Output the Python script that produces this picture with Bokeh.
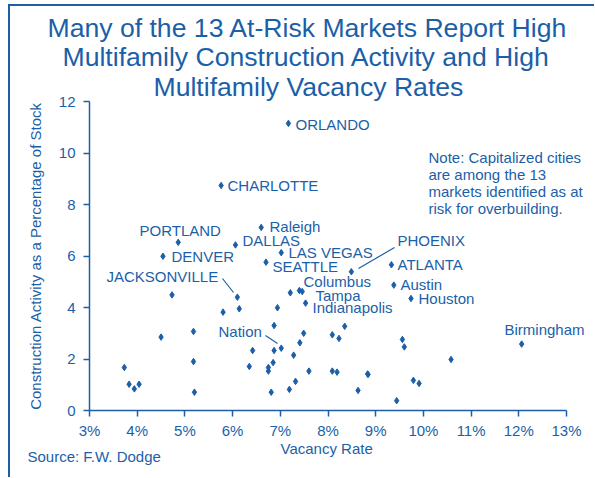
from bokeh.plotting import figure
from bokeh.models import Label, Range1d, FixedTicker, Title
from bokeh.embed import file_html
from bokeh.resources import INLINE

# ---------------- data ----------------
names = ["ORLANDO", "CHARLOTTE", "PORTLAND", "Raleigh", "DALLAS", "DENVER",
         "LAS VEGAS", "SEATTLE", "PHOENIX", "ATLANTA", "Austin", "Houston",
         "Birmingham", "Columbus", "Tampa", "Indianapolis", "JACKSONVILLE", "Nation"]
name_x = [7.17, 5.76, 4.86, 6.60, 6.06, 4.54, 7.02, 6.70, 8.49, 9.33, 9.38, 9.74,
          12.06, 7.40, 7.53, 7.46, 6.10, 7.02]
name_y = [11.15, 8.74, 6.53, 7.11, 6.43, 5.99, 6.13, 5.76, 5.39, 5.66, 4.87, 4.35,
          2.58, 4.66, 4.17, 4.62, 4.40, 2.42]

other_x = [4.73, 4.50, 5.18, 5.18, 5.20, 3.73, 3.83, 3.94, 4.04, 5.80, 6.14, 6.94,
           6.87, 7.21, 6.42, 6.87, 6.35, 6.75, 6.75, 6.85, 6.81, 7.19, 7.32, 7.28,
           7.41, 7.49, 7.60, 8.09, 8.23, 8.09, 8.19, 8.35, 8.83, 8.84, 8.63, 9.44,
           9.56, 9.60, 9.79, 9.91, 10.58]
other_y = [4.49, 2.85, 3.07, 1.90, 0.71, 1.67, 1.02, 0.84, 1.02, 3.82, 3.95, 3.99,
           3.30, 4.57, 2.33, 2.33, 1.71, 1.67, 1.53, 1.86, 0.71, 0.82, 1.13, 2.15,
           2.63, 3.00, 1.53, 2.94, 2.80, 1.53, 1.49, 3.27, 1.42, 1.40, 0.78, 0.38,
           2.76, 2.47, 1.17, 1.05, 1.98]

x_ticks = [3, 4, 5, 6, 7, 8, 9, 10, 11, 12, 13]
x_tick_labels = ["3%", "4%", "5%", "6%", "7%", "8%", "9%", "10%", "11%", "12%", "13%"]
y_ticks = [0, 2, 4, 6, 8, 10, 12]
y_tick_labels = ["0", "2", "4", "6", "8", "10", "12"]

title_lines = ["Many of the 13 At-Risk Markets Report High",
               "Multifamily Construction Activity and High",
               "Multifamily Vacancy Rates"]
note_lines = ["Note: Capitalized cities", "are among the 13",
              "markets identified as at", "risk for overbuilding."]
x_label = "Vacancy Rate"
y_label = "Construction Activity as a Percentage of Stock"
source_text = "Source: F.W. Dodge"

# ---------------- layout / style ----------------
BLUE = "#1b5fa8"
FONT = "Liberation Sans"
CX, CY = 10, 6                 # page offset of the figure content (after CSS border)
W, H = 584, 471                # figure size
AX_L, AX_B, AX_T = 89, 410, 101  # page px of the x=3 / y=0 / y=12 axis positions
PPX = 47.7                     # px per x unit
X0, Y0, YTOP = 3, 0, 12
FL = AX_L - CX                 # frame left within figure
FT = AX_T - CY                 # frame top within figure
FW = W - FL                    # frame spans to the right edge
FH = AX_B - AX_T
PPY = FH / (YTOP - Y0)

def dx(px):   # page px -> data x
    return X0 + (px - AX_L) / PPX

def dy(py):   # page px -> data y
    return Y0 + (AX_B - py) / PPY

# label anchors (left, baseline) in page px
label_px = {
    "ORLANDO": (295, 130), "CHARLOTTE": (227, 191), "PORTLAND": (139, 236),
    "Raleigh": (269, 232), "DALLAS": (242, 246), "DENVER": (171, 262),
    "LAS VEGAS": (288, 258), "SEATTLE": (272, 272), "PHOENIX": (397, 246),
    "ATLANTA": (397, 270), "Austin": (400, 290), "Houston": (418, 304),
    "Birmingham": (504, 335), "Columbus": (303, 287), "Tampa": (315, 301),
    "Indianapolis": (312, 313), "JACKSONVILLE": (106, 282), "Nation": (218, 337),
}
BASE_FIX = 6   # Bokeh alphabetic baseline correction (px)
leaders_px = [((358, 268), (394, 247)), ((222, 278), (233, 292)), ((265, 335), (277, 343))]
title_left_px = [47, 62, 153]
title_standoff = [-3, -3, -1]

p = figure(width=W, height=H, frame_width=FW, frame_height=FH, output_backend="svg",
           toolbar_location=None, title=None,
           x_range=Range1d(X0, X0 + FW / PPX), y_range=Range1d(Y0, YTOP),
           min_border_left=FL, min_border_top=FT, min_border_right=0,
           min_border_bottom=H - FT - FH,
           background_fill_color="white", border_fill_color="white")
p.outline_line_color = None
p.grid.visible = False
p.styles = {"margin-left": "8px", "margin-top": "4px",
            "border-top": "2px solid " + BLUE, "border-left": "2px solid " + BLUE}

for ax in (p.xaxis[0], p.yaxis[0]):
    ax.axis_line_color = BLUE
    ax.axis_line_width = 1.5
    ax.major_tick_line_color = BLUE
    ax.major_tick_line_width = 1.5
    ax.major_tick_out = 6
    ax.major_tick_in = 0
    ax.minor_tick_line_color = None
    ax.major_label_text_color = BLUE
    ax.major_label_text_font = FONT
    ax.major_label_text_font_size = "15px"
    ax.axis_label_text_color = BLUE
    ax.axis_label_text_font = FONT
    ax.axis_label_text_font_size = "15px"
    ax.axis_label_text_font_style = "normal"

p.xaxis.ticker = FixedTicker(ticks=x_ticks)
p.xaxis.major_label_overrides = dict(zip(x_ticks, x_tick_labels))
p.xaxis.bounds = (x_ticks[0], x_ticks[-1])
p.xaxis.major_label_standoff = 5
p.yaxis.ticker = FixedTicker(ticks=y_ticks)
p.yaxis.major_label_overrides = dict(zip(y_ticks, y_tick_labels))
p.yaxis.bounds = (y_ticks[0], y_ticks[-1])
p.yaxis.major_label_standoff = 8
p.yaxis.axis_label = y_label
p.yaxis.axis_label_standoff = 12

def title(txt, side, left_px, size="15px", standoff=0):
    t = Title(text=txt, align="left", offset=left_px - AX_L)
    t.standoff = standoff
    t.text_color = BLUE
    t.text_font = FONT
    t.text_font_size = size
    t.text_font_style = "normal"
    p.add_layout(t, side)

# x-axis caption and source (below, stacked outward)
title(x_label, "below", left_px=280, standoff=-8)
title(source_text, "below", left_px=27, standoff=-14)

# chart title (above, nearest line first)
for i in reversed(range(len(title_lines))):
    title(title_lines[i], "above", left_px=title_left_px[i], size="26.6px",
          standoff=title_standoff[i])

# leader lines
p.segment(x0=[dx(a[0]) for a, b in leaders_px], y0=[dy(a[1]) for a, b in leaders_px],
          x1=[dx(b[0]) for a, b in leaders_px], y1=[dy(b[1]) for a, b in leaders_px],
          line_color=BLUE, line_width=1.2)

# points
p.scatter(other_x, other_y, marker="diamond", size=6.5, fill_color=BLUE, line_color=BLUE)
p.scatter(name_x, name_y, marker="diamond", size=6.5, fill_color=BLUE, line_color=BLUE)

def add_text(txt, px, py, size="15px", align="left"):
    p.add_layout(Label(x=dx(px), y=dy(py - BASE_FIX), text=txt, text_color=BLUE,
                       text_font=FONT, text_font_size=size, text_align=align,
                       text_baseline="alphabetic"))

for n in names:
    lx, ly = label_px[n]
    add_text(n, lx, ly)

for i, t in enumerate(note_lines):
    add_text(t, 428, 163 + i * 17)

open("out.html", "w").write(file_html(p, INLINE))
